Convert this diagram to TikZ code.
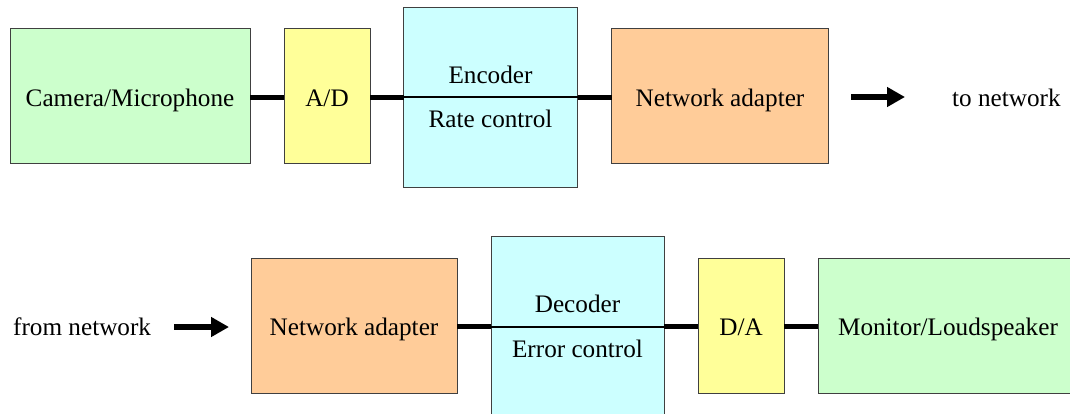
\documentclass[tikz,border=0pt]{standalone}
\usepackage{fontspec}
\setmainfont{Liberation Serif}
\usetikzlibrary{arrows.meta}
\definecolor{boxgreen}{HTML}{CCFFCC}
\definecolor{boxyellow}{HTML}{FFFF99}
\definecolor{boxcyan}{HTML}{CCFFFF}
\definecolor{boxorange}{HTML}{FFCC99}
\definecolor{edge}{HTML}{404040}
\tikzset{
  block/.style={draw=edge, line width=1pt, inner sep=0pt, outer sep=0pt,
    text height=20pt, text depth=0pt,
    font=\fontsize{25.2}{29}\selectfont},
  label/.style={inner sep=0pt, font=\fontsize{25.2}{29}\selectfont},
  link/.style={line width=5pt},
  divider/.style={line width=2pt},
  flow/.style={line width=6pt, -{Triangle[length=18pt,width=19pt]}},
}
\begin{document}
\begin{tikzpicture}[x=1pt, y=-1pt]
  \useasboundingbox (0,0) rectangle (1070,413);

  % sending chain
  \node[block, fill=boxgreen, minimum width=240pt, minimum height=135pt] (cam) at (130,96) {Camera/Microphone};
  \node[block, fill=boxyellow, minimum width=86pt, minimum height=135pt] (ad) at (327,96) {A/D};
  \node[block, fill=boxcyan, minimum width=174pt, minimum height=180pt] (enc) at (490.5,97) {};
  \node[label, anchor=base] (encT) at (490.5,83) {Encoder};
  \node[label, anchor=base] (encB) at (490.5,127.5) {Rate control};
  \node[block, fill=boxorange, minimum width=217pt, minimum height=135pt] (natx) at (720,96) {Network adapter};
  \node[label, anchor=base west] (tonet) at (952,106) {to network};
  \coordinate (txa) at (851,97);
  \coordinate (txb) at (905,97);

  \draw[link] (cam.east |- 0,97) -- (ad.west |- 0,97);
  \draw[link] (ad.east |- 0,97) -- (enc.west |- 0,97);
  \draw[divider] (enc.west |- 0,97) -- (enc.east |- 0,97);
  \draw[link] (enc.east |- 0,97) -- (natx.west |- 0,97);
  \draw[flow] (txa) -- (txb);

  % receiving chain
  \node[label, anchor=base west] (fromnet) at (13,335.5) {from network};
  \coordinate (rxa) at (174,327);
  \coordinate (rxb) at (229,327);
  \node[block, fill=boxorange, minimum width=206pt, minimum height=135pt] (narx) at (354,325.5) {Network adapter};
  \node[block, fill=boxcyan, minimum width=173pt, minimum height=180pt] (dec) at (577.5,326.7) {};
  \node[label, anchor=base] (decT) at (577.5,312.5) {Decoder};
  \node[label, anchor=base] (decB) at (577.5,357) {Error control};
  \node[block, fill=boxyellow, minimum width=86pt, minimum height=135pt] (da) at (741,325.5) {D/A};
  \node[block, fill=boxgreen, minimum width=260pt, minimum height=135pt] (mon) at (948,325.5) {Monitor/Loudspeaker};

  \draw[flow] (rxa) -- (rxb);
  \draw[link] (narx.east |- 0,326.5) -- (dec.west |- 0,326.5);
  \draw[divider] (dec.west |- 0,326.5) -- (dec.east |- 0,326.5);
  \draw[link] (dec.east |- 0,326.5) -- (da.west |- 0,326.5);
  \draw[link] (da.east |- 0,326.5) -- (mon.west |- 0,326.5);
\end{tikzpicture}
\end{document}
